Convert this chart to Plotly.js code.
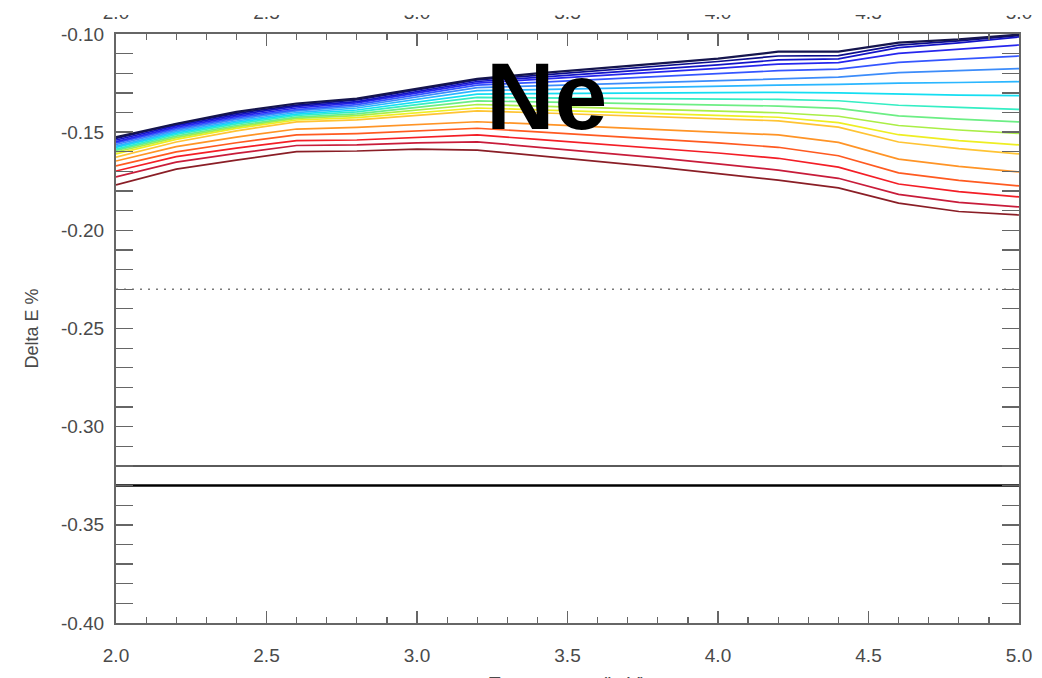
<!DOCTYPE html>
<html>
<head>
<meta charset="utf-8">
<script src="https://cdn.plot.ly/plotly-3.0.1.min.js"></script>
<style>
  html, body { margin: 0; padding: 0; background: #fff; }
  #wrap { position: relative; width: 1042px; height: 678px; }
  #chart { width: 1042px; height: 678px; }
  /* white strip along the top edge, over the upper part of the top tick labels */
  #topStrip { position: absolute; left: 0; top: 0; width: 1042px; height: 15px; background: #fff; z-index: 10; }
</style>
</head>
<body>
<div id="wrap">
  <div id="chart"></div>
  <div id="topStrip"></div>
</div>
<script>
// Sample points along the horizontal axis
const xValues = [2.0, 2.2, 2.4, 2.6, 2.8, 3.0, 3.2, 3.4, 3.6, 3.8, 4.0, 4.2, 4.4, 4.6, 4.8, 5.0];

// Delta E % curves, top (dark blue) to bottom (dark red)
const curve01 = [-0.1525,-0.1458,-0.1397,-0.1354,-0.1329,-0.1278,-0.1229,-0.1201,-0.1176,-0.1150,-0.1125,-0.1090,-0.1090,-0.1044,-0.1027,-0.1003];
const curve02 = [-0.1532,-0.1459,-0.1404,-0.1362,-0.1336,-0.1285,-0.1234,-0.1211,-0.1188,-0.1165,-0.1140,-0.1112,-0.1110,-0.1057,-0.1035,-0.1008];
const curve03 = [-0.1540,-0.1467,-0.1412,-0.1369,-0.1344,-0.1293,-0.1242,-0.1221,-0.1200,-0.1179,-0.1157,-0.1132,-0.1127,-0.1069,-0.1045,-0.1015];
const curve04 = [-0.1548,-0.1474,-0.1420,-0.1377,-0.1351,-0.1301,-0.1250,-0.1231,-0.1213,-0.1195,-0.1175,-0.1153,-0.1146,-0.1099,-0.1079,-0.1056];
const curve05 = [-0.1555,-0.1482,-0.1427,-0.1385,-0.1360,-0.1310,-0.1260,-0.1246,-0.1232,-0.1218,-0.1204,-0.1187,-0.1179,-0.1145,-0.1128,-0.1112];
const curve06 = [-0.1563,-0.1490,-0.1435,-0.1392,-0.1368,-0.1320,-0.1273,-0.1264,-0.1255,-0.1246,-0.1236,-0.1226,-0.1220,-0.1197,-0.1186,-0.1176];
const curve07 = [-0.1571,-0.1497,-0.1443,-0.1400,-0.1377,-0.1333,-0.1288,-0.1283,-0.1277,-0.1272,-0.1266,-0.1260,-0.1257,-0.1250,-0.1247,-0.1243];
const curve08 = [-0.1578,-0.1505,-0.1450,-0.1408,-0.1387,-0.1346,-0.1306,-0.1304,-0.1303,-0.1301,-0.1299,-0.1297,-0.1300,-0.1307,-0.1311,-0.1314];
const curve09 = [-0.1586,-0.1512,-0.1458,-0.1415,-0.1397,-0.1360,-0.1323,-0.1325,-0.1327,-0.1329,-0.1331,-0.1333,-0.1340,-0.1363,-0.1374,-0.1384];
const curve10 = [-0.1593,-0.1520,-0.1466,-0.1423,-0.1407,-0.1374,-0.1341,-0.1346,-0.1351,-0.1356,-0.1361,-0.1367,-0.1379,-0.1417,-0.1434,-0.1448];
const curve11 = [-0.1601,-0.1528,-0.1473,-0.1430,-0.1416,-0.1388,-0.1359,-0.1367,-0.1375,-0.1383,-0.1391,-0.1401,-0.1419,-0.1466,-0.1489,-0.1506];
const curve12 = [-0.1611,-0.1537,-0.1481,-0.1438,-0.1426,-0.1401,-0.1377,-0.1386,-0.1395,-0.1404,-0.1414,-0.1424,-0.1451,-0.1513,-0.1543,-0.1565];
const curve13 = [-0.1627,-0.1550,-0.1493,-0.1448,-0.1437,-0.1415,-0.1392,-0.1401,-0.1411,-0.1420,-0.1430,-0.1442,-0.1474,-0.1550,-0.1584,-0.1611];
const curve14 = [-0.1647,-0.1574,-0.1525,-0.1484,-0.1476,-0.1462,-0.1447,-0.1459,-0.1473,-0.1485,-0.1499,-0.1514,-0.1552,-0.1637,-0.1674,-0.1703];
const curve15 = [-0.1672,-0.1600,-0.1554,-0.1514,-0.1507,-0.1492,-0.1480,-0.1499,-0.1517,-0.1535,-0.1555,-0.1577,-0.1620,-0.1707,-0.1746,-0.1774];
const curve16 = [-0.1698,-0.1625,-0.1581,-0.1543,-0.1540,-0.1527,-0.1514,-0.1537,-0.1560,-0.1582,-0.1606,-0.1633,-0.1678,-0.1764,-0.1803,-0.1830];
const curve17 = [-0.1728,-0.1653,-0.1608,-0.1568,-0.1565,-0.1555,-0.1549,-0.1576,-0.1604,-0.1631,-0.1661,-0.1693,-0.1735,-0.1817,-0.1858,-0.1881];
const curve18 = [-0.1769,-0.1688,-0.1642,-0.1599,-0.1596,-0.1586,-0.1591,-0.1619,-0.1647,-0.1678,-0.1711,-0.1744,-0.1784,-0.1861,-0.1904,-0.1922];

// Horizontal reference levels
const levelDotted = -0.23;
const levelGray = -0.32;
const levelBlack = -0.33;

// Tick labels
const xTickVals = [2.0, 2.5, 3.0, 3.5, 4.0, 4.5, 5.0];
const xTickText = ['2.0', '2.5', '3.0', '3.5', '4.0', '4.5', '5.0'];
const yTickVals = [-0.40, -0.35, -0.30, -0.25, -0.20, -0.15, -0.10];
const yTickText = ['-0.40', '-0.35', '-0.30', '-0.25', '-0.20', '-0.15', '-0.10'];

const elementLabel = 'Ne';
const yTitle = 'Delta E %';
const xTitle = 'Temperature (keV)';

// Rainbow palette, one colour per curve
const curveColors = [
  '#15154e', '#0c0c8c', '#1414c8', '#2626ee', '#3456ff', '#3c8cfa',
  '#2ab6ff', '#14def2', '#34eec4', '#6cee84', '#aaee46', '#eeee22',
  '#ffc434', '#ff9426', '#ff5a20', '#f41e26', '#c81c3a', '#8a1e26'
];

const curves = [curve01, curve02, curve03, curve04, curve05, curve06, curve07, curve08, curve09,
                curve10, curve11, curve12, curve13, curve14, curve15, curve16, curve17, curve18];

const traces = [];
// draw from the bottom curve up so the blue ones sit on top
for (let i = curves.length - 1; i >= 0; i--) {
  traces.push({
    x: xValues, y: curves[i], type: 'scatter', mode: 'lines',
    line: { color: curveColors[i], width: i === 0 ? 2.2 : 1.7 },
    hoverinfo: 'skip'
  });
}

const xEnds = [xValues[0], xValues[xValues.length - 1]];
traces.push({
  x: xEnds, y: [levelDotted, levelDotted], type: 'scatter', mode: 'lines',
  line: { color: '#7a7a7a', width: 1.5, dash: '2px,6px' }, xaxis: 'x2', hoverinfo: 'skip'
});
traces.push({
  x: xEnds, y: [levelGray, levelGray], type: 'scatter', mode: 'lines',
  line: { color: '#5a5a5a', width: 2 }, hoverinfo: 'skip'
});
traces.push({
  x: xEnds, y: [levelBlack, levelBlack], type: 'scatter', mode: 'lines',
  line: { color: '#000', width: 2.6 }, hoverinfo: 'skip'
});

const axisGray = '#666';
const textGray = '#4a4a4a';
const fontFamily = 'Liberation Sans, Arial, Helvetica, sans-serif';

const layout = {
  width: 1042, height: 678,
  margin: { l: 116, r: 23, t: 34, b: 55, pad: 0 },
  paper_bgcolor: '#fff', plot_bgcolor: '#fff',
  showlegend: false,
  font: { family: fontFamily, color: textGray },
  xaxis: {
    range: [2, 5], tickmode: 'array', tickvals: xTickVals, ticktext: xTickText,
    ticks: 'inside', ticklen: 12, tickwidth: 1.4, tickcolor: axisGray,
    minor: { tickmode: 'linear', tick0: 2, dtick: 0.1, ticks: 'inside', ticklen: 6, tickwidth: 1.2, tickcolor: axisGray },
    mirror: 'allticks', showline: true, linecolor: axisGray, linewidth: 2,
    showgrid: false, zeroline: false,
    tickfont: { size: 19, color: textGray, family: fontFamily },
    ticklabelstandoff: 14
  },
  xaxis2: {
    overlaying: 'x', side: 'top', range: [2, 5],
    tickmode: 'array', tickvals: xTickVals, ticktext: xTickText,
    ticks: '', showline: false, showgrid: false, zeroline: false,
    tickfont: { size: 19, color: textGray, family: fontFamily },
    ticklabelstandoff: 10
  },
  yaxis: {
    range: [-0.40, -0.10], tickmode: 'array', tickvals: yTickVals, ticktext: yTickText,
    ticks: 'inside', ticklen: 17, tickwidth: 1.4, tickcolor: axisGray,
    minor: { tickmode: 'linear', tick0: -0.40, dtick: 0.01, ticks: 'inside', ticklen: 9, tickwidth: 1.2, tickcolor: axisGray },
    mirror: 'allticks', showline: true, linecolor: axisGray, linewidth: 2,
    showgrid: false, zeroline: false,
    tickfont: { size: 19, color: textGray, family: fontFamily },
    ticklabelstandoff: 6,
    title: { text: yTitle, font: { size: 18, color: textGray, family: fontFamily }, standoff: 18 }
  },
  annotations: [
    {
      x: 3.43, y: -0.1316, xref: 'x', yref: 'y', text: elementLabel, showarrow: false,
      xanchor: 'center', yanchor: 'middle',
      font: { size: 95, color: '#000', family: fontFamily, weight: 'bold' }
    },
    {
      x: 0.5, y: -0.0815, xref: 'paper', yref: 'paper', text: xTitle, showarrow: false,
      xanchor: 'center', yanchor: 'top',
      font: { size: 19, color: textGray, family: fontFamily }
    }
  ]
};

Plotly.newPlot('chart', traces, layout, { staticPlot: true, displayModeBar: false });
</script>
</body>
</html>
